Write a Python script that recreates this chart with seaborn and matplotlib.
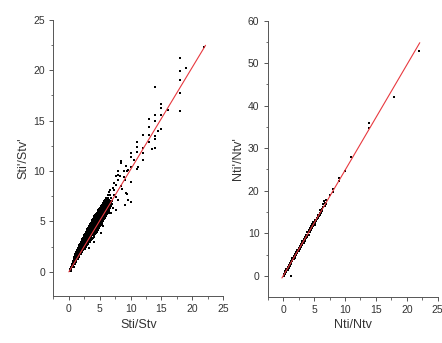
import matplotlib
matplotlib.use("Agg")
import matplotlib.pyplot as plt
import seaborn as sns
import pandas as pd
from matplotlib.ticker import MultipleLocator

# ---------------- data ----------------
# Left panel: Sti/Stv vs Sti'/Stv'
left_out_x = [21.95, 18.0, 18.0, 18.97, 18.0, 18.0, 18.05, 14.0, 15.0, 15.0, 16.0, 15.0,
              14.0, 13.06, 14.0, 13.06, 15.0, 14.5, 14.0, 14.0, 13.06, 13.06, 12.0, 14.0,
              13.5, 12.0, 11.0, 11.0, 12.0, 11.0, 10.0, 10.0, 10.6, 12.0, 11.0, 11.2,
              10.0, 9.6, 8.5, 9.0, 8.0, 10.0, 9.5, 10.0, 8.56, 9.0, 8.0, 8.24, 7.7, 7.97,
              9.05, 7.32, 7.7, 7.16, 8.52, 6.62, 7.32, 9.33, 9.6, 7.97, 9.05, 7.7, 8.52,
              9.33, 9.5, 6.9, 7.2, 7.6, 6.5]
left_out_y = [22.35, 21.2, 19.97, 20.23, 19.04, 17.75, 16.0, 18.3, 16.66, 16.3, 16.1, 15.56,
              15.56, 15.2, 15.0, 14.4, 14.2, 14.0, 13.5, 13.2, 13.6, 12.9, 13.6, 12.3,
              12.2, 12.25, 12.9, 12.4, 11.75, 11.9, 11.75, 11.4, 11.1, 11.1, 10.25, 10.4,
              10.4, 10.1, 10.8, 10.0, 9.6, 8.9, 7.7, 6.9, 8.2, 9.4, 9.96, 9.53, 9.47, 9.14,
              9.14, 8.8, 8.64, 8.3, 8.47, 8.15, 8.15, 7.81, 7.15, 7.15, 6.65, 6.15, 10.95,
              10.46, 9.96, 5.8, 6.3, 7.4, 7.9]

left_cloud_rows = [
    (0.1, [0.1, 0.3]),
    (0.3, [0.2, 0.4]),
    (0.5, [0.35, 0.55, 0.75]),
    (0.75, [0.5, 0.7, 0.95]),
    (1.0, [0.6, 0.8, 1.0, 1.2]),
    (1.25, [0.75, 0.95, 1.15, 1.4]),
    (1.5, [0.9, 1.1, 1.3, 1.5, 1.7]),
    (1.75, [1.05, 1.3, 1.5, 1.75, 1.95]),
    (2.0, [1.2, 1.45, 1.7, 1.95, 2.2]),
    (2.25, [1.4, 1.65, 1.9, 2.15, 2.4, 2.6]),
    (2.5, [1.6, 1.85, 2.1, 2.35, 2.6, 2.85]),
    (2.75, [1.8, 2.05, 2.3, 2.55, 2.8, 3.05]),
    (3.0, [2.0, 2.25, 2.5, 2.75, 3.0, 3.25, 3.5]),
    (3.25, [2.2, 2.45, 2.7, 2.95, 3.2, 3.45, 3.75]),
    (3.5, [2.4, 2.65, 2.9, 3.15, 3.4, 3.65, 4.0]),
    (3.75, [2.6, 2.85, 3.1, 3.35, 3.6, 3.85, 4.2]),
    (4.0, [2.8, 3.05, 3.3, 3.55, 3.8, 4.05, 4.3, 4.6]),
    (4.25, [3.0, 3.25, 3.5, 3.75, 4.0, 4.25, 4.5, 4.8]),
    (4.5, [3.25, 3.5, 3.75, 4.0, 4.25, 4.5, 4.75, 5.05]),
    (4.75, [3.45, 3.7, 3.95, 4.2, 4.45, 4.7, 4.95, 5.3]),
    (5.0, [3.7, 3.95, 4.2, 4.45, 4.7, 4.95, 5.2, 5.5]),
    (5.25, [3.9, 4.15, 4.4, 4.65, 4.9, 5.15, 5.4, 5.7]),
    (5.5, [4.15, 4.4, 4.65, 4.9, 5.15, 5.4, 5.65, 5.95]),
    (5.75, [4.4, 4.65, 4.9, 5.15, 5.4, 5.65, 5.9, 6.2]),
    (6.0, [4.7, 4.95, 5.2, 5.45, 5.7, 5.95, 6.2, 6.5]),
    (6.25, [4.95, 5.2, 5.45, 5.7, 5.95, 6.2, 6.55]),
    (6.5, [5.2, 5.45, 5.7, 5.95, 6.2, 6.5, 6.85]),
    (6.75, [5.5, 5.75, 6.0, 6.25, 6.55, 6.95]),
    (7.0, [5.7, 6.0, 6.3, 6.65, 7.0]),
    (7.3, [6.0, 6.4, 6.85]),
    (7.6, [6.3, 6.75, 7.3]),
    (0.62, [0.45, 0.65]), (0.87, [0.6, 0.85]), (1.12, [0.7, 0.9, 1.1]),
    (1.37, [0.85, 1.05, 1.25]), (1.62, [1.0, 1.2, 1.4, 1.6]),
    (1.87, [1.15, 1.4, 1.6, 1.85]), (2.12, [1.3, 1.55, 1.8, 2.05, 2.3]),
    (2.37, [1.5, 1.75, 2.0, 2.25, 2.5]), (2.62, [1.7, 1.95, 2.2, 2.45, 2.7, 2.95]),
    (2.87, [1.9, 2.15, 2.4, 2.65, 2.9, 3.15]),
    (3.12, [2.1, 2.35, 2.6, 2.85, 3.1, 3.35, 3.6]),
    (3.37, [2.3, 2.55, 2.8, 3.05, 3.3, 3.55, 3.85]),
    (3.62, [2.5, 2.75, 3.0, 3.25, 3.5, 3.75, 4.1]),
    (3.87, [2.7, 2.95, 3.2, 3.45, 3.7, 3.95, 4.25, 4.45]),
    (4.12, [2.9, 3.15, 3.4, 3.65, 3.9, 4.15, 4.4, 4.7]),
    (4.37, [3.1, 3.35, 3.6, 3.85, 4.1, 4.35, 4.6, 4.9]),
    (4.62, [3.35, 3.6, 3.85, 4.1, 4.35, 4.6, 4.85, 5.15]),
    (4.87, [3.55, 3.8, 4.05, 4.3, 4.55, 4.8, 5.05, 5.35]),
    (5.12, [3.8, 4.05, 4.3, 4.55, 4.8, 5.05, 5.3, 5.6]),
    (5.37, [4.0, 4.25, 4.5, 4.75, 5.0, 5.25, 5.5, 5.8]),
    (5.62, [4.25, 4.5, 4.75, 5.0, 5.25, 5.5, 5.75, 6.05]),
    (5.87, [4.55, 4.8, 5.05, 5.3, 5.55, 5.8, 6.05, 6.35]),
    (6.12, [4.8, 5.05, 5.3, 5.55, 5.8, 6.05, 6.3]),
    (6.37, [5.05, 5.3, 5.55, 5.8, 6.05, 6.3, 6.7]),
    (6.62, [5.35, 5.6, 5.85, 6.1, 6.35, 6.7]),
    (6.87, [5.6, 5.85, 6.15, 6.45, 6.8]),
    (7.15, [5.85, 6.2, 6.55]),
    (3.0, [4.0]), (3.9, [5.2]), (4.5, [5.6]), (5.8, [6.7]), (2.4, [3.3]),
]
left_fit_x = [0.0, 22.17]
left_fit_y = [0.0, 22.48]

# Right panel: Nti/Ntv vs Nti'/Ntv'
right_out_x = [21.9, 17.85, 13.9, 13.9, 10.97, 10.0, 8.98, 8.98, 8.0, 8.0, 7.5, 7.0, 7.0,
               6.45, 6.6, 1.24, 5.0, 5.2, 5.6, 5.8, 6.0, 6.2, 6.5, 6.8, 6.7]
right_out_y = [52.9, 42.05, 36.0, 34.7, 28.0, 24.75, 22.9, 22.2, 20.4, 19.8, 19.0, 17.85, 16.9,
               16.9, 17.5, 0.0, 12.0, 12.0, 14.0, 14.0, 15.5, 15.5, 16.2, 16.4, 17.2]
right_cloud_rows = [
    (0.1, [-0.1, 0.25, 0.5]), (0.3, [0.4, 0.75, 1.1]), (0.5, [0.9, 1.25, 1.6]),
    (0.7, [1.4, 1.75, 2.1]), (0.9, [1.9, 2.25, 2.6]), (1.1, [2.4, 2.7, 3.1]),
    (1.3, [2.9, 3.2, 3.6]), (1.5, [3.4, 3.7, 4.1]), (1.7, [3.9, 4.2, 4.6]),
    (1.9, [4.3, 4.7, 5.1]), (2.1, [4.8, 5.2, 5.6]), (2.3, [5.3, 5.7, 6.1]),
    (2.5, [5.8, 6.2, 6.6]), (2.7, [6.3, 6.7, 7.1]), (2.9, [6.8, 7.2, 7.6]),
    (3.1, [7.3, 7.7, 8.1]), (3.3, [7.8, 8.2, 8.6]), (3.5, [8.3, 8.7, 9.1]),
    (3.7, [8.8, 9.2, 9.6]), (3.9, [9.2, 9.7, 10.2]), (4.1, [9.7, 10.2, 10.7]),
    (4.3, [10.2, 10.7, 11.2]), (4.5, [10.8, 11.2, 11.7]), (4.7, [11.3, 11.7, 12.2]),
    (4.9, [11.8, 12.2, 12.7]), (5.1, [12.3, 12.7, 13.2]), (5.3, [12.8, 13.2]),
    (5.5, [13.3, 13.7]), (5.7, [13.7, 14.2]), (5.9, [14.3, 14.7]),
    (6.1, [14.8, 15.2]), (6.3, [15.3, 15.6]),
]
right_fit_x = [-0.2, 22.1]
right_fit_y = [-0.5, 54.8]

left_xticks = [0, 5, 10, 15, 20, 25]
left_yticks = [0, 5, 10, 15, 20, 25]
right_xticks = [0, 5, 10, 15, 20, 25]
right_yticks = [0, 10, 20, 30, 40, 50, 60]

# ---------------- build tables ----------------
def cloud_y_rows(rows):
    xs, ys = [], []
    for yv, xl in rows:
        for xv in xl:
            xs.append(xv); ys.append(yv)
    return xs, ys

def cloud_x_rows(rows):
    xs, ys = [], []
    for xv, yl in rows:
        for yv in yl:
            xs.append(xv); ys.append(yv)
    return xs, ys

lcx, lcy = cloud_y_rows(left_cloud_rows)
left_df = pd.DataFrame({"x": left_out_x + lcx, "y": left_out_y + lcy})
rcx, rcy = cloud_x_rows(right_cloud_rows)
right_df = pd.DataFrame({"x": right_out_x + rcx, "y": right_out_y + rcy})

# ---------------- draw ----------------
sns.set_style("ticks")
plt.rcParams["font.family"] = ["Liberation Sans", "DejaVu Sans"]

fig = plt.figure(figsize=(4.42, 3.43), dpi=100)
ax1 = fig.add_axes([0.121, 0.137, 0.3835, 0.805])
ax2 = fig.add_axes([0.6057, 0.135, 0.3846, 0.805])

spine_col = "#555555"
for ax, df, fx, fy, xt, yt, xl, yl, ylim, ymin in [
    (ax1, left_df, left_fit_x, left_fit_y, left_xticks, left_yticks,
     "Sti/Stv", "Sti'/Stv'", (-2.4, 25), 2.5),
    (ax2, right_df, right_fit_x, right_fit_y, right_xticks, right_yticks,
     "Nti/Ntv", "Nti'/Ntv'", (-4.9, 60), 5),
]:
    sns.scatterplot(data=df, x="x", y="y", ax=ax, color="black", marker="s",
                    s=3.5, linewidth=0, zorder=2)
    sns.lineplot(x=fx, y=fy, ax=ax, color="#e8393f", linewidth=0.8, zorder=3)
    ax.set_xlim(-2.5, 25)
    ax.set_ylim(*ylim)
    ax.set_xticks(xt)
    ax.set_yticks(yt)
    ax.xaxis.set_minor_locator(MultipleLocator(2.5))
    ax.yaxis.set_minor_locator(MultipleLocator(ymin))
    ax.set_xlabel(xl, fontsize=9, color="#333333", labelpad=3)
    ax.set_ylabel(yl, fontsize=9, color="#333333", labelpad=3)
    sns.despine(ax=ax)
    for s in ["left", "bottom"]:
        ax.spines[s].set_color(spine_col)
        ax.spines[s].set_linewidth(0.7)
    ax.tick_params(which="major", direction="out", length=3, width=0.7,
                   color=spine_col, labelsize=7.5, labelcolor="#333333", pad=3)
    ax.tick_params(which="minor", direction="out", length=1.8, width=0.6, color=spine_col)

fig.savefig("out.png", dpi=100)
